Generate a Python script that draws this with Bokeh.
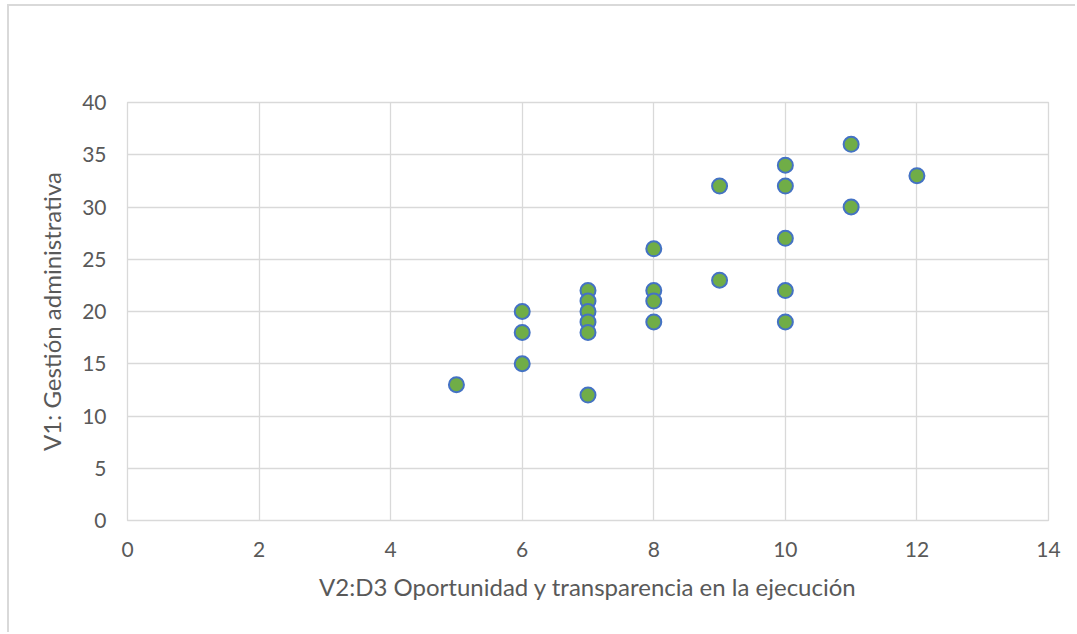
from bokeh.plotting import figure
from bokeh.models import Range1d, FixedTicker, ColumnDataSource
from bokeh.embed import file_html
from bokeh.resources import INLINE

# Data
x_vals = [5, 6, 6, 6, 7, 7, 7, 7, 7, 7, 8, 8, 8, 8, 9, 9, 10, 10, 10, 10, 10, 11, 11, 12]
y_vals = [13, 20, 18, 15, 22, 21, 20, 19, 18, 12, 26, 22, 21, 19, 32, 23, 34, 32, 27, 22, 19, 36, 30, 33]
x_ticks = [0, 2, 4, 6, 8, 10, 12, 14]
y_ticks = [0, 5, 10, 15, 20, 25, 30, 35, 40]
x_title = "V2:D3 Oportunidad y transparencia en la ejecución"
y_title = "V1: Gestión administrativa"

FONT = "Lato"
TXT = "#595959"
GRID = "#d9d9d9"

p = figure(width=1068, height=628, output_backend="svg", toolbar_location=None,
           x_range=Range1d(0, 14), y_range=Range1d(0, 40),
           min_border_left=118, min_border_top=96, min_border_right=29, min_border_bottom=114)
p.styles = {"margin-left": "7px", "margin-top": "4px",
            "border-left": "2px solid #d9d9d9", "border-top": "2px solid #d9d9d9"}
p.outline_line_color = GRID
p.outline_line_width = 1.3
p.background_fill_color = "white"
p.border_fill_color = "white"

for ax in (p.xaxis[0], p.yaxis[0]):
    ax.axis_line_color = None
    ax.major_tick_line_color = None
    ax.minor_tick_line_color = None
    ax.major_tick_out = 0
    ax.major_tick_in = 0
    ax.major_label_text_font = FONT
    ax.major_label_text_font_size = "21px"
    ax.major_label_text_color = TXT
    ax.axis_label_text_font = FONT
    ax.axis_label_text_font_size = "24px"
    ax.axis_label_text_color = TXT
    ax.axis_label_text_font_style = "normal"

p.xaxis[0].ticker = FixedTicker(ticks=x_ticks)
p.yaxis[0].ticker = FixedTicker(ticks=y_ticks)
p.xaxis[0].axis_label = x_title
p.yaxis[0].axis_label = y_title
p.xaxis[0].major_label_standoff = 21
p.yaxis[0].major_label_standoff = 21
p.xaxis[0].axis_label_standoff = 12
p.yaxis[0].axis_label_standoff = 13

p.xgrid.grid_line_color = GRID
p.ygrid.grid_line_color = GRID
p.xgrid.grid_line_width = 1.3
p.ygrid.grid_line_width = 1.3

src = ColumnDataSource(dict(x=x_vals, y=y_vals))
p.scatter("x", "y", source=src, size=15, fill_color="#70AD47", line_color="#4472C4", line_width=2)

open("out.html", "w").write(file_html(p, INLINE))
